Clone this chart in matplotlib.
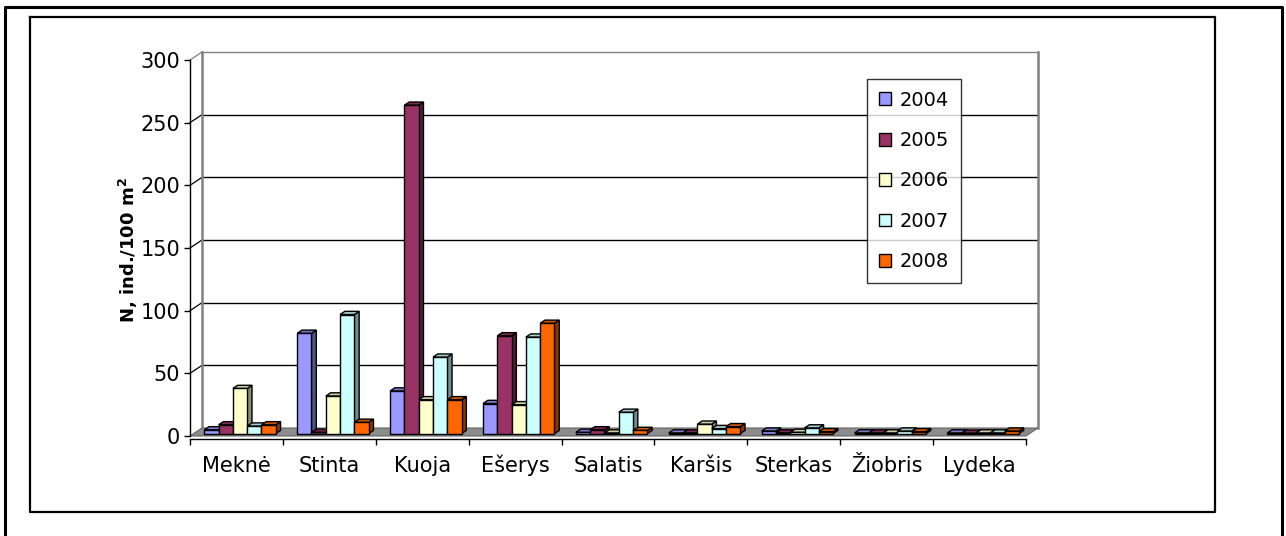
import matplotlib
matplotlib.use("Agg")
import matplotlib.pyplot as plt
from matplotlib.patches import Polygon, Patch
from matplotlib.lines import Line2D
import numpy as np

plt.rcParams['font.family'] = ['DejaVu Sans']

categories = ["Meknė", "Stinta", "Kuoja", "Ešerys", "Salatis",
              "Karšis", "Sterkas", "Žiobris", "Lydeka"]
years = ["2004", "2005", "2006", "2007", "2008"]
v2004 = [3, 80, 34, 24, 1, 0.5, 2, 0.5, 0.5]
v2005 = [7, 1, 262, 78, 3, 0.5, 0.5, 0.5, 0.3]
v2006 = [36, 30, 27, 23, 0.5, 7.5, 1, 0.5, 0.5]
v2007 = [6, 95, 61, 77, 17, 4, 4.5, 2, 0.5]
v2008 = [7, 9, 27, 88, 2.5, 5.5, 1.5, 1.5, 2]
series = [v2004, v2005, v2006, v2007, v2008]
colors = ["#9999FF", "#993366", "#FFFFCC", "#CCFFFF", "#FF6600"]

yticks = [0, 50, 100, 150, 200, 250, 300]
ymax = 300

W, H = 1286, 536
fig = plt.figure(figsize=(W / 100, H / 100), dpi=100)

# front plane of the 3-D plot in pixels
left_px, right_px, top_px, base_px = 190, 1026, 60, 436
ax = fig.add_axes([left_px / W, 1 - base_px / H,
                   (right_px - left_px) / W, (base_px - top_px) / H])
ncat = len(categories)
ax.set_xlim(0, ncat)
ax.set_ylim(0, ymax)
ax.patch.set_visible(False)

px_cat = (right_px - left_px) / ncat
px_val = (base_px - top_px) / ymax
DX = 12 / px_cat      # full depth offset, category units
DY = 8 / px_val       # full depth offset, value units


def shade(c, f):
    rgb = np.array(matplotlib.colors.to_rgb(c))
    return tuple(rgb * f)


# back wall, side wall lines and floor
for v in yticks:
    col = "#808080" if v == ymax else "black"
    if v > 0:
        ax.add_line(Line2D([DX, ncat + DX], [v + DY, v + DY], color=col,
                           lw=1.0, zorder=1, clip_on=False))
        ax.add_line(Line2D([0, DX], [v, v + DY], color=col, lw=0.9,
                           zorder=1, clip_on=False))
ax.add_line(Line2D([DX, DX], [DY, ymax + DY], color="#808080", lw=1.8,
                   zorder=1, clip_on=False))
ax.add_line(Line2D([ncat + DX, ncat + DX], [DY, ymax + DY], color="#808080",
                   lw=1.8, zorder=1, clip_on=False))
floor = Polygon([(0, 0), (ncat, 0), (ncat + DX, DY), (DX, DY)], closed=True,
                facecolor="#8C8C8C", edgecolor="#666666", lw=0.8, zorder=2,
                clip_on=False)
ax.add_patch(floor)

# clustered 3-D columns
nser = len(series)
bw = 1 / (nser + 1.5)
gap = 1.5 * bw
d0, dd = 0.3, 0.4
for i in range(ncat):
    for j, (vals, c) in enumerate(zip(series, colors)):
        v = vals[i]
        x0 = i + gap / 2 + j * bw + d0 * DX
        x1 = x0 + bw
        y0 = d0 * DY
        y1 = y0 + v
        ox, oy = dd * DX, dd * DY
        z = 3 + i * 10 + j
        kw = dict(closed=True, edgecolor="black", lw=1.0, zorder=z,
                  clip_on=False, joinstyle="miter")
        ax.add_patch(Polygon([(x1, y0), (x1 + ox, y0 + oy), (x1 + ox, y1 + oy),
                              (x1, y1)], facecolor=shade(c, 0.55), **kw))
        ax.add_patch(Polygon([(x0, y1), (x1, y1), (x1 + ox, y1 + oy),
                              (x0 + ox, y1 + oy)], facecolor=shade(c, 0.8), **kw))
        ax.add_patch(Polygon([(x0, y0), (x1, y0), (x1, y1), (x0, y1)],
                             facecolor=c, **kw))

# axes
for s in ("top", "right"):
    ax.spines[s].set_visible(False)
ax.spines["left"].set_color("black")
ax.spines["left"].set_linewidth(1.0)
ax.spines["left"].set_zorder(2.5)
ax.spines["bottom"].set_position(("outward", 2.2))
ax.spines["bottom"].set_linewidth(1.0)
ax.set_yticks(yticks)
ax.set_yticklabels([str(t) for t in yticks], fontsize=15)
ax.tick_params(axis="y", direction="out", length=4, width=1, pad=3)
ax.set_xticks(np.arange(ncat + 1))
ax.set_xticklabels([])
ax.tick_params(axis="x", which="major", direction="out", length=4, width=1)
ax.set_xticks(np.arange(ncat) + 0.5, minor=True)
ax.set_xticklabels(categories, minor=True, fontsize=15)
ax.tick_params(axis="x", which="minor", length=0, pad=24)
for lab in ax.get_xticklabels(minor=True):
    lab.set_verticalalignment("baseline")

fig.text(128 / W, 1 - 250 / H, "N, ind./100 m$\\mathbf{^2}$", rotation=90,
         ha="center", va="center", fontsize=13, fontweight="bold")

handles = [Patch(facecolor=c, edgecolor="black", lw=1.0) for c in colors]
leg = fig.legend(handles, years, loc="upper left",
                 bbox_to_anchor=(867 / W, 1 - 79 / H), borderaxespad=0,
                 fontsize=14, frameon=True, fancybox=False,
                 handlelength=0.65, handleheight=0.65, handletextpad=0.45,
                 labelspacing=1.1, borderpad=0.6)
leg.get_frame().set_edgecolor("black")
leg.get_frame().set_linewidth(1.0)
leg.set_zorder(100)


def px_line(xs, ys, lw):
    fig.add_artist(Line2D([x / W for x in xs], [1 - y / H for y in ys],
                          transform=fig.transFigure, color="black", lw=lw,
                          solid_capstyle="projecting"))


# outer frame and chart border
px_line([5, 5, 1282, 1282], [540, 7, 7, 540], 2.2)
px_line([30, 30, 1215, 1215, 30], [17, 512, 512, 17, 17], 1.6)

fig.savefig("out.png", dpi=100)
